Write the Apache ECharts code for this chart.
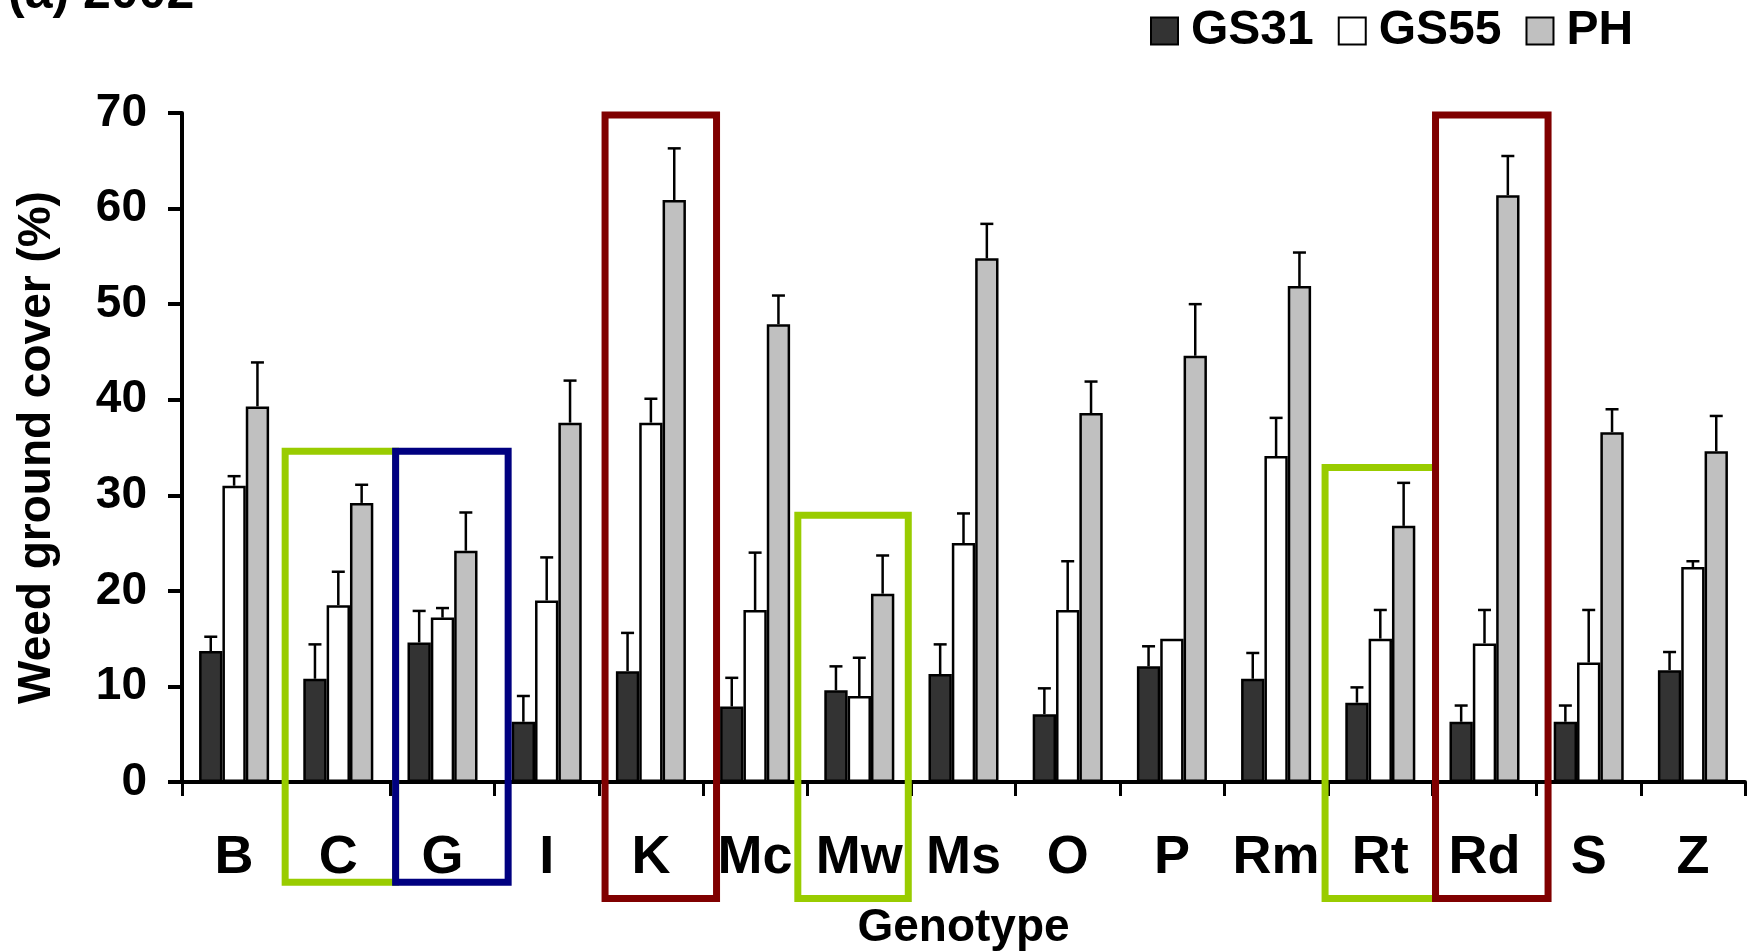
<!DOCTYPE html>
<html>
<head>
<meta charset="utf-8">
<script src="https://cdn.jsdelivr.net/npm/echarts@6/dist/echarts.min.js"></script>
<style>
  html, body { margin: 0; padding: 0; background: #fff; }
  #weed-chart { width: 1752px; height: 951px; }
</style>
</head>
<body>
<div id="weed-chart"></div>
<script>
// genotypes on the x axis
const genotypes = ["B", "C", "G", "I", "K", "Mc", "Mw", "Ms", "O", "P", "Rm", "Rt", "Rd", "S", "Z"];

// weed ground cover (%) at each stage
const gs31 = [13.7, 10.8, 14.6, 6.3, 11.6, 7.9, 9.6, 11.3, 7.1, 12.1, 10.8, 8.3, 6.3, 6.3, 11.7];
const gs55 = [31.0, 18.5, 17.2, 19.0, 37.6, 18.0, 9.0, 25.0, 18.0, 15.0, 34.1, 15.0, 14.5, 12.5, 22.5];
const ph = [39.3, 29.2, 24.2, 37.6, 60.9, 47.9, 19.7, 54.8, 38.6, 44.6, 51.9, 26.8, 61.4, 36.6, 34.6];

// standard errors (upper whisker only)
const gs31Err = [1.5, 3.6, 3.3, 2.7, 4.0, 3.0, 2.5, 3.1, 2.7, 2.1, 2.7, 1.6, 1.7, 1.7, 1.9];
const gs55Err = [1.0, 3.5, 1.0, 4.5, 2.5, 6.0, 4.0, 3.1, 5.1, 0.0, 4.0, 3.0, 3.5, 5.5, 0.6];
const phErr = [4.6, 1.9, 4.0, 4.4, 5.4, 3.0, 4.0, 3.6, 3.3, 5.4, 3.5, 4.5, 4.1, 2.4, 3.7];

const yTicks = [0, 10, 20, 30, 40, 50, 60, 70];

// highlight boxes: [left, right] in category units (0 = centre of B), [top, bottom] in %
const boxes = [
  { x0: 0.49, x1: 1.55, top: 34.6, bottom: -10.5, color: "#99CC00" },
  { x0: 1.55, x1: 2.63, top: 34.6, bottom: -10.5, color: "#000080" },
  { x0: 3.56, x1: 4.63, top: 69.8, bottom: -12.2, color: "#800000" },
  { x0: 5.41, x1: 6.47, top: 27.9, bottom: -12.2, color: "#99CC00" },
  { x0: 10.47, x1: 11.53, top: 32.9, bottom: -12.2, color: "#99CC00" },
  { x0: 11.53, x1: 12.61, top: 69.8, bottom: -12.2, color: "#800000" },
];

const FONT = "'Liberation Sans', Arial, sans-serif";
const CAT_GAP = 0.328; // share of each category left empty

let myChart = echarts.init(document.getElementById("weed-chart"));

function barSeries(name, values, color) {
  return {
    name: name,
    type: "bar",
    data: values,
    barGap: "0%",
    barCategoryGap: CAT_GAP * 100 + "%",
    itemStyle: { color: color, borderColor: "#000", borderWidth: 2.5 },
    emphasis: { disabled: true },
  };
}

function errorSeries(values, errs, k) {
  return {
    type: "custom",
    z: 5,
    silent: true,
    data: values.map((v, i) => [i, v, errs[i]]),
    renderItem: function (params, api) {
      if (!api.value(2)) return;
      const band = api.size([1, 0])[0];
      const bw = band * (1 - CAT_GAP) / 3;
      const base = api.coord([api.value(0), api.value(1)]);
      const top = api.coord([api.value(0), api.value(1) + api.value(2)]);
      const x = base[0] + (k - 1) * bw;
      const st = { stroke: "#000", lineWidth: 2.5 };
      return {
        type: "group",
        children: [
          { type: "line", shape: { x1: x, y1: base[1], x2: x, y2: top[1] }, style: st },
          { type: "line", shape: { x1: x - 6.5, y1: top[1], x2: x + 6.5, y2: top[1] }, style: st },
        ],
      };
    },
  };
}

let option = {
  animation: false,
  title: {
    text: "(a) 2002",
    left: 8,
    top: -31,
    padding: 0,
    textStyle: { fontFamily: FONT, fontSize: 50, fontWeight: "bold", color: "#000" },
  },
  legend: {
    data: ["GS31", "GS55", "PH"],
    left: 1150,
    top: 7,
    padding: 0,
    icon: "rect",
    itemWidth: 27,
    itemHeight: 27,
    itemGap: 24,
    textStyle: { fontFamily: FONT, fontSize: 48, fontWeight: "bold", color: "#000", padding: [0, 0, 0, 8] },
  },
  grid: { left: 182, right: 7, top: 113, bottom: 169, outerBoundsMode: "none", containLabel: false },
  xAxis: {
    type: "category",
    data: genotypes,
    name: "Genotype",
    nameLocation: "middle",
    nameGap: 123,
    nameTextStyle: { fontFamily: FONT, fontSize: 46, fontWeight: "bold", color: "#000" },
    axisLine: { lineStyle: { color: "#000", width: 4 } },
    axisTick: { show: true, length: 14, lineStyle: { color: "#000", width: 3 } },
    axisLabel: { interval: 0, margin: 49, fontFamily: FONT, fontSize: 54, fontWeight: "bold", color: "#000" },
    splitLine: { show: false },
  },
  yAxis: {
    type: "value",
    min: yTicks[0],
    max: yTicks[yTicks.length - 1],
    interval: yTicks[1] - yTicks[0],
    name: "Weed ground cover (%)",
    nameLocation: "middle",
    nameGap: 122,
    nameTextStyle: { fontFamily: FONT, fontSize: 46, fontWeight: "bold", color: "#000" },
    axisLine: { show: true, lineStyle: { color: "#000", width: 4 } },
    axisTick: { show: true, length: 14, lineStyle: { color: "#000", width: 4 } },
    axisLabel: { margin: 35, fontFamily: FONT, fontSize: 46, fontWeight: "bold", color: "#000" },
    splitLine: { show: false },
  },
  series: [
    barSeries("GS31", gs31, "#333333"),
    barSeries("GS55", gs55, "#FFFFFF"),
    barSeries("PH", ph, "#C0C0C0"),
    errorSeries(gs31, gs31Err, 0),
    errorSeries(gs55, gs55Err, 1),
    errorSeries(ph, phErr, 2),
    {
      type: "custom",
      z: 10,
      silent: true,
      clip: false,
      data: boxes.map((b) => [0, b.top, b.bottom, b.x0, b.x1]),
      renderItem: function (params, api) {
        const band = api.size([1, 0])[0];
        const origin = api.coord([0, api.value(1)]);
        const bottom = api.coord([0, api.value(2)]);
        const left = origin[0] + api.value(3) * band;
        const right = origin[0] + api.value(4) * band;
        return {
          type: "rect",
          shape: { x: left, y: origin[1], width: right - left, height: bottom[1] - origin[1] },
          style: { fill: "none", stroke: boxes[params.dataIndex].color, lineWidth: 7 },
        };
      },
    },
  ],
};

option && myChart.setOption(option);
</script>
</body>
</html>
